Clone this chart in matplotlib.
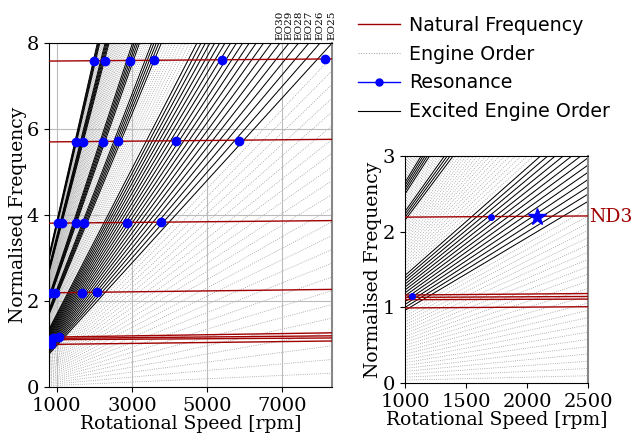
import numpy as np
import matplotlib.pyplot as plt
from matplotlib.lines import Line2D

plt.rcParams['font.family'] = 'DejaVu Serif'

# normalised frequency of an engine order line: EO * rpm / NORM
NORM = 26000.0

# engine orders (grey) and the excited ones (black)
eo_all = list(range(1, 101))
eo_exc_left = list(range(25, 45)) + list(range(55, 60)) + list(range(65, 70)) \
    + list(range(87, 92)) + list(range(97, 101))
eo_exc_right = list(range(25, 38)) + list(range(56, 60)) + list(range(65, 70))
eo_labels = [30, 29, 28, 27, 26, 25]

# natural frequencies (normalised), value at low and high speed
nf_rpm = [795, 8315]
nf_start = [0.99, 1.10, 1.13, 1.16, 2.19, 3.81, 5.70, 7.58]
nf_end = [1.07, 1.14, 1.19, 1.26, 2.27, 3.87, 5.76, 7.63]

# resonance points
res_rpm = [1998, 2290, 2938, 3583, 5390, 8122,
           1504, 1706, 2237, 2635, 4167, 5848,
           1027, 1133, 1504, 1733, 2858, 3761,
           850, 955, 1680, 2062,
           855, 905, 1050]
res_freq = [7.59, 7.59, 7.59, 7.60, 7.61, 7.62,
            5.70, 5.70, 5.70, 5.71, 5.72, 5.73,
            3.81, 3.81, 3.81, 3.82, 3.82, 3.83,
            2.19, 2.19, 2.19, 2.20,
            1.00, 1.14, 1.16]

zoom_rpm = [1060, 1702]
zoom_freq = [1.15, 2.19]
star_rpm = [2079]
star_freq = [2.19]

red = '#a00000'
grey = '#999999'

fig = plt.figure(figsize=(6.33, 4.34), dpi=100)
ax1 = fig.add_axes([0.0774, 0.1083, 0.447, 0.7926])
ax2 = fig.add_axes([0.640, 0.1175, 0.2896, 0.523])


def draw_lines(ax, xlim, excited):
    x = np.array(xlim, dtype=float)
    for eo in eo_all:
        ax.plot(x, eo * x / NORM, ls=':', lw=0.6, color=grey, zorder=1)
    for eo in excited:
        ax.plot(x, eo * x / NORM, '-', lw=0.7, color='black', zorder=2)
    for a, b in zip(nf_start, nf_end):
        ax.plot(nf_rpm, [a, b], '-', lw=1.0, color=red, zorder=3)


# left panel
xl1 = (795, 8315)
draw_lines(ax1, xl1, eo_exc_left)
ax1.plot(res_rpm, res_freq, 'o', color='blue', ms=6, zorder=4)
ax1.set_xlim(xl1)
ax1.set_ylim(0, 8)
ax1.set_xticks([1000, 3000, 5000, 7000])
ax1.set_yticks([0, 2, 4, 6, 8])
ax1.grid(True, color='#bbbbbb', lw=0.8)
for eo in eo_labels:
    xpos = min(8 * NORM / eo, xl1[1])
    ax1.text(xpos, 8.08, 'EO%d' % eo, rotation=90, ha='center', va='bottom',
             fontsize=7.5)
ax1.set_xlabel('Rotational Speed [rpm]', fontsize=13.5, labelpad=0)
ax1.set_ylabel('Normalised Frequency', fontsize=13.5, labelpad=0)

# right panel
xl2 = (1000, 2500)
draw_lines(ax2, xl2, eo_exc_right)
ax2.plot(zoom_rpm, zoom_freq, 'o', color='blue', ms=4, zorder=4)
ax2.plot(star_rpm, star_freq, '*', color='blue', ms=13, zorder=4)
ax2.set_xlim(xl2)
ax2.set_ylim(0, 3)
ax2.set_xticks([1000, 1500, 2000, 2500])
ax2.set_yticks([0, 1, 2, 3])
ax2.text(2505, 2.19, 'ND3', color=red, fontsize=13.5, ha='left', va='center')
ax2.set_xlabel('Rotational Speed [rpm]', fontsize=13.5, labelpad=0)
ax2.set_ylabel('Normalised Frequency', fontsize=13.5, labelpad=1)

for ax in (ax1, ax2):
    ax.tick_params(labelsize=14)
    ax.spines['right'].set_color('#888888')
    ax.spines['right'].set_linewidth(1.5)

handles = [Line2D([], [], color=red, lw=1.0),
           Line2D([], [], color=grey, lw=0.7, ls=':'),
           Line2D([], [], color='blue', marker='o', ms=5, lw=1.0),
           Line2D([], [], color='black', lw=0.8)]
labels = ['Natural Frequency', 'Engine Order', 'Resonance', 'Excited Engine Order']
fig.legend(handles, labels, loc='upper left', bbox_to_anchor=(0.566, 0.964),
           frameon=False, borderpad=0, borderaxespad=0, handlelength=2.2,
           handletextpad=0.45, labelspacing=0.52,
           prop={'family': 'DejaVu Sans', 'size': 13.7})

fig.savefig('out.png', dpi=100)
